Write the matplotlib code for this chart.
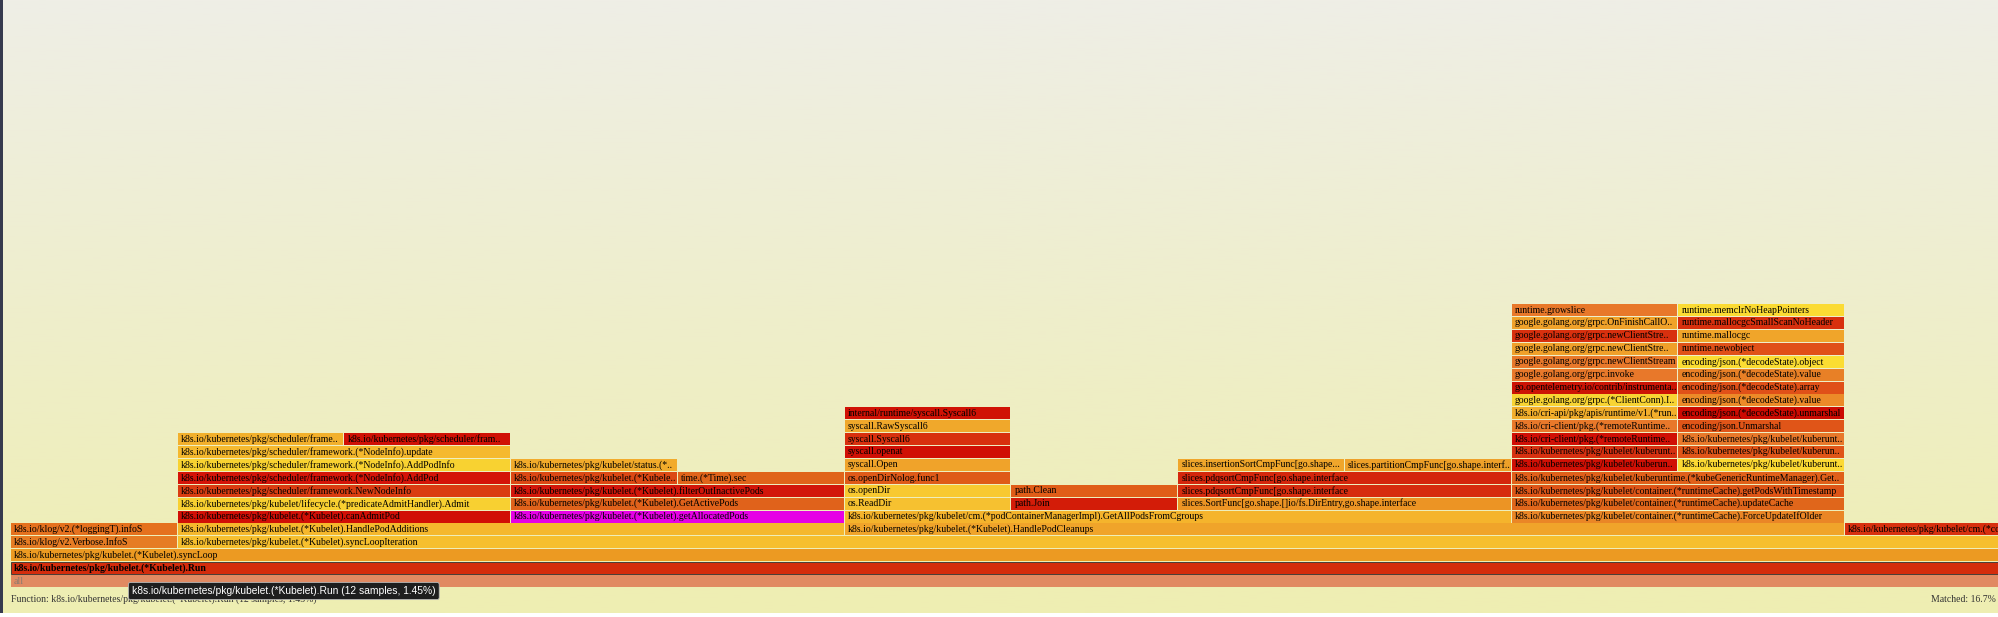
import matplotlib.pyplot as plt
import numpy as np
from matplotlib.colors import LinearSegmentedColormap

# flame graph frames (row 0 = bottom), start / width in samples
rows = [0, 1, 2,
        3, 3,
        4, 4, 4, 4,
        5, 5, 5, 5,
        6, 6, 6, 6, 6, 6,
        7, 7, 7, 7, 7, 7,
        8, 8, 8, 8, 8, 8,
        9, 9, 9, 9, 9, 9, 9,
        10, 10, 10, 10,
        11, 11, 11, 11, 11,
        12, 12, 12,
        13, 13, 13,
        14, 14, 15, 15, 16, 16, 17, 17, 18, 18, 19, 19, 20, 20, 21, 21]
starts = [0, 0, 0,
          0, 1,
          0, 1, 5, 11,
          1, 3, 5, 9,
          1, 3, 5, 6, 7, 9,
          1, 3, 5, 6, 7, 9,
          1, 3, 4, 5, 7, 9,
          1, 3, 5, 7, 8, 9, 10,
          1, 5, 9, 10,
          1, 2, 5, 9, 10,
          5, 9, 10,
          5, 9, 10,
          9, 10, 9, 10, 9, 10, 9, 10, 9, 10, 9, 10, 9, 10, 9, 10]
widths = [12, 12, 12,
          1, 11,
          1, 4, 6, 1,
          2, 2, 4, 2,
          2, 2, 1, 1, 2, 2,
          2, 2, 1, 1, 2, 2,
          2, 1, 1, 1, 2, 2,
          2, 1, 1, 1, 1, 1, 1,
          2, 1, 1, 1,
          1, 1, 1, 1, 1,
          1, 1, 1,
          1, 1, 1,
          1, 1, 1, 1, 1, 1, 1, 1, 1, 1, 1, 1, 1, 1, 1, 1]
labels = [
    "all",
    "k8s.io/kubernetes/pkg/kubelet.(*Kubelet).Run",
    "k8s.io/kubernetes/pkg/kubelet.(*Kubelet).syncLoop",
    "k8s.io/klog/v2.Verbose.InfoS",
    "k8s.io/kubernetes/pkg/kubelet.(*Kubelet).syncLoopIteration",
    "k8s.io/klog/v2.(*loggingT).infoS",
    "k8s.io/kubernetes/pkg/kubelet.(*Kubelet).HandlePodAdditions",
    "k8s.io/kubernetes/pkg/kubelet.(*Kubelet).HandlePodCleanups",
    "k8s.io/kubernetes/pkg/kubelet/cm.(*containerManagerImpl)",
    "k8s.io/kubernetes/pkg/kubelet.(*Kubelet).canAdmitPod",
    "k8s.io/kubernetes/pkg/kubelet.(*Kubelet).getAllocatedPods",
    "k8s.io/kubernetes/pkg/kubelet/cm.(*podContainerManagerImpl).GetAllPodsFromCgroups",
    "k8s.io/kubernetes/pkg/kubelet/container.(*runtimeCache).ForceUpdateIfOlder",
    "k8s.io/kubernetes/pkg/kubelet/lifecycle.(*predicateAdmitHandler).Admit",
    "k8s.io/kubernetes/pkg/kubelet.(*Kubelet).GetActivePods",
    "os.ReadDir",
    "path.Join",
    "slices.SortFunc[go.shape.[]io/fs.DirEntry,go.shape.interface",
    "k8s.io/kubernetes/pkg/kubelet/container.(*runtimeCache).updateCache",
    "k8s.io/kubernetes/pkg/scheduler/framework.NewNodeInfo",
    "k8s.io/kubernetes/pkg/kubelet.(*Kubelet).filterOutInactivePods",
    "os.openDir",
    "path.Clean",
    "slices.pdqsortCmpFunc[go.shape.interface",
    "k8s.io/kubernetes/pkg/kubelet/container.(*runtimeCache).getPodsWithTimestamp",
    "k8s.io/kubernetes/pkg/scheduler/framework.(*NodeInfo).AddPod",
    "k8s.io/kubernetes/pkg/kubelet.(*Kubele..",
    "time.(*Time).sec",
    "os.openDirNolog.func1",
    "slices.pdqsortCmpFunc[go.shape.interface",
    "k8s.io/kubernetes/pkg/kubelet/kuberuntime.(*kubeGenericRuntimeManager).Get..",
    "k8s.io/kubernetes/pkg/scheduler/framework.(*NodeInfo).AddPodInfo",
    "k8s.io/kubernetes/pkg/kubelet/status.(*..",
    "syscall.Open",
    "slices.insertionSortCmpFunc[go.shape...",
    "slices.partitionCmpFunc[go.shape.interf..",
    "k8s.io/kubernetes/pkg/kubelet/kuberun..",
    "k8s.io/kubernetes/pkg/kubelet/kuberunt..",
    "k8s.io/kubernetes/pkg/scheduler/framework.(*NodeInfo).update",
    "syscall.openat",
    "k8s.io/kubernetes/pkg/kubelet/kuberunt..",
    "k8s.io/kubernetes/pkg/kubelet/kuberun..",
    "k8s.io/kubernetes/pkg/scheduler/frame..",
    "k8s.io/kubernetes/pkg/scheduler/fram..",
    "syscall.Syscall6",
    "k8s.io/cri-client/pkg.(*remoteRuntime..",
    "k8s.io/kubernetes/pkg/kubelet/kuberunt..",
    "syscall.RawSyscall6",
    "k8s.io/cri-client/pkg.(*remoteRuntime..",
    "encoding/json.Unmarshal",
    "internal/runtime/syscall.Syscall6",
    "k8s.io/cri-api/pkg/apis/runtime/v1.(*run..",
    "encoding/json.(*decodeState).unmarshal",
    "google.golang.org/grpc.(*ClientConn).I..",
    "encoding/json.(*decodeState).value",
    "go.opentelemetry.io/contrib/instrumenta..",
    "encoding/json.(*decodeState).array",
    "google.golang.org/grpc.invoke",
    "encoding/json.(*decodeState).value",
    "google.golang.org/grpc.newClientStream",
    "encoding/json.(*decodeState).object",
    "google.golang.org/grpc.newClientStre..",
    "runtime.newobject",
    "google.golang.org/grpc.newClientStre..",
    "runtime.mallocgc",
    "google.golang.org/grpc.OnFinishCallO..",
    "runtime.mallocgcSmallScanNoHeader",
    "runtime.growslice",
    "runtime.memclrNoHeapPointers",
]
colors = [
    "#e18a62", "#d42c0c", "#ec9a22",
    "#e67c24", "#f6bf2e",
    "#e5711e", "#f5b82d", "#f0a42a", "#d8300f",
    "#d10f06", "#e600e6", "#f5b42c", "#ea8626",
    "#f8d031", "#e0621b", "#f6c130", "#d31c08", "#ec9424", "#e0661b",
    "#da3c11", "#d2160a", "#f8c930", "#e05d18", "#d62c0e", "#de5517",
    "#d41408", "#dc4814", "#e0641a", "#df5a18", "#d4260c", "#e0601a",
    "#f8d231", "#f2ab2b", "#f0a32a", "#f0a62b", "#eea029", "#d01005", "#fcd933",
    "#f5b92e", "#d01005", "#d63010", "#e05518",
    "#f2b02c", "#d01005", "#d8300e", "#d00f05", "#e8782a",
    "#f0a82b", "#e8782a", "#e05518",
    "#d01205", "#f2ae2b", "#cc0a02",
    "#f8d433", "#ec8a28",
    "#cc1405", "#e05018",
    "#e8782a", "#e88026",
    "#e8782a", "#fbdd32",
    "#f0a02a", "#e05018",
    "#d8300e", "#f0a52a",
    "#f0a22a", "#d8300e",
    "#e8782a", "#fbdb33",
]

hover_text = "k8s.io/kubernetes/pkg/kubelet.(*Kubelet).Run (12 samples, 1.45%)"
details_text = "Function: k8s.io/kubernetes/pkg/kubelet.(*Kubelet).Run (12 samples, 1.45%)"
matched_text = "Matched: 16.7%"

# pixel geometry of the view
W, H = 1999, 617
px_per_sample = 166.75
x_pad = 11
row_px = 12.9
base_px = 587   # bottom of the "all" row, from top

fig = plt.figure(figsize=(W / 100, H / 100), dpi=100)
ax = fig.add_axes([0, 0, 1, 1])
x_lo = -x_pad / px_per_sample
x_hi = (W - x_pad) / px_per_sample
y_bottom = -(H - base_px) / row_px
y_lo = -(H - 4 - base_px) / row_px
y_hi = base_px / row_px
ax.set_xlim(x_lo, x_hi)
ax.set_ylim(y_bottom, y_hi)
ax.axis("off")

# background gradient (#eeeeee -> #eeeeb0)
cmap = LinearSegmentedColormap.from_list("bg", ["#efeee6", "#eeeeb2"])
grad = np.linspace(0, 1, 256).reshape(-1, 1)
ax.imshow(grad, cmap=cmap, aspect="auto", extent=(x_lo, x_hi, y_lo, y_hi),
          origin="upper", zorder=0)
ax.axvspan(x_lo, x_lo + 2.5 / px_per_sample,
           ymin=(y_lo - y_bottom) / (y_hi - y_bottom),
           color="#363a4e", zorder=1, lw=0)

gap = 1.0 / px_per_sample
fh = 12.0 / row_px
for r, s, w, lab, c in zip(rows, starts, widths, labels, colors):
    is_run = lab.endswith(").Run")
    ax.barh(r, w - gap, left=s, height=fh, align="edge", color=c,
            edgecolor="#303030" if is_run else "none", linewidth=0.6, zorder=2)
    tcolor = "#8a7a70" if lab == "all" else "#000000"
    ax.text(s + 3 / px_per_sample, r + fh / 2, lab, fontsize=7.0,
            family="Liberation Serif", color=tcolor,
            weight="bold" if is_run else "normal",
            va="center", ha="left", clip_on=True, zorder=3)

# details line and search match
detail_y = -12 / row_px
ax.text(x_lo + x_pad / px_per_sample, detail_y, details_text, fontsize=7.0,
        family="Liberation Serif", color="#333333", va="center", ha="left", zorder=3)
ax.text(x_hi - 3 / px_per_sample, detail_y, matched_text, fontsize=7.0,
        family="Liberation Serif", color="#333333", va="center", ha="right", zorder=3)

# hover tooltip
ax.text(x_lo + 132 / px_per_sample, -4 / row_px, hover_text, fontsize=7.4,
        family="Liberation Sans", color="white", va="center", ha="left", zorder=5,
        bbox=dict(boxstyle="round,pad=0.35,rounding_size=0.2", fc="#1e1e1e",
                  ec="#bbbbbb", lw=0.6))

fig.savefig("out.png", dpi=100, facecolor="white")
